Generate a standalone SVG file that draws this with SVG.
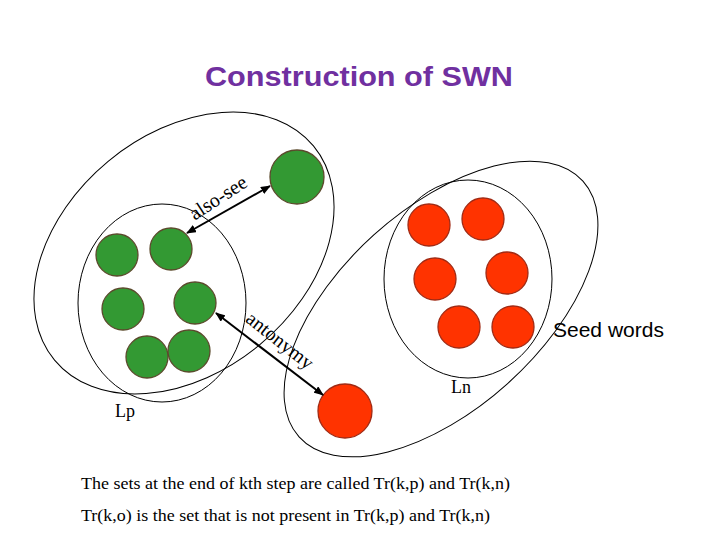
<svg xmlns="http://www.w3.org/2000/svg" width="720" height="540" viewBox="0 0 720 540">
<style>
.bg{fill:#ffffff}
.set{fill:none;stroke:#000;stroke-width:1}
.g{fill:#339933;stroke:#5b4a2c;stroke-width:1.3}
.r{fill:#ff3300;stroke:#a02a14;stroke-width:1.3}
.edge{stroke:#000;stroke-width:2;fill:none;marker-start:url(#ah);marker-end:url(#ah)}
.lbl{font-family:"Liberation Serif","Times New Roman",serif;font-size:18px;fill:#000}
.elbl{font-family:"Liberation Serif","Times New Roman",serif;font-size:20px;fill:#000}
.title{font-family:"Liberation Sans",Arial,sans-serif;font-weight:bold;font-size:28px;fill:#7030a0}
.sans{font-family:"Liberation Sans",Arial,sans-serif;font-size:21px;fill:#000}
.note{font-family:"Liberation Serif","Times New Roman",serif;font-size:17.5px;fill:#000}
</style>
<defs>
<marker id="ah" viewBox="0 0 10 8" refX="9" refY="4" markerWidth="10" markerHeight="8" markerUnits="userSpaceOnUse" orient="auto-start-reverse">
<path d="M0,0 L10,4 L0,8 z" fill="#000"/>
</marker>
</defs>
<rect class="bg" width="720" height="540"/>
<text class="title" x="359" y="86" text-anchor="middle" textLength="308" lengthAdjust="spacingAndGlyphs">Construction of SWN</text>

<g id="sets">
<ellipse id="green-outer" class="set" cx="184" cy="253" rx="168" ry="119" transform="rotate(-39.6 184 253)"/>
<ellipse id="Lp-set" class="set" cx="162" cy="303" rx="84" ry="99"/>
<ellipse id="red-outer" class="set" cx="441" cy="309" rx="191" ry="100" transform="rotate(-42 441 309)"/>
<ellipse id="Ln-set" class="set" cx="468" cy="279" rx="84" ry="99"/>
</g>

<g id="green-nodes">
<g id="gp1"><circle class="g" cx="117" cy="255" r="21"/></g>
<g id="gp2"><circle class="g" cx="171" cy="249" r="21"/></g>
<g id="gp3"><circle class="g" cx="123" cy="309" r="21"/></g>
<g id="gp4"><circle class="g" cx="195" cy="303" r="21"/></g>
<g id="gp5"><circle class="g" cx="147" cy="357" r="21"/></g>
<g id="gp6"><circle class="g" cx="189" cy="351" r="21"/></g>
<g id="gbig"><circle class="g" cx="297" cy="177" r="27"/></g>
</g>

<g id="red-nodes">
<g id="rn1"><circle class="r" cx="429" cy="225" r="21"/></g>
<g id="rn2"><circle class="r" cx="483" cy="219" r="21"/></g>
<g id="rn3"><circle class="r" cx="435" cy="279" r="21"/></g>
<g id="rn4"><circle class="r" cx="507" cy="273" r="21"/></g>
<g id="rn5"><circle class="r" cx="459" cy="327" r="21"/></g>
<g id="rn6"><circle class="r" cx="513" cy="327" r="21"/></g>
<g id="rbig"><circle class="r" cx="345" cy="411" r="27"/></g>
</g>

<g id="connectors">
<line class="edge" x1="187" y1="233" x2="270" y2="186"/>
<line class="edge" x1="216" y1="313" x2="323" y2="395"/>
<text class="elbl" text-anchor="middle" transform="translate(226 210) rotate(-33)" x="0" y="-8">also-see</text>
<text class="elbl" text-anchor="middle" transform="translate(271 352) rotate(38)" x="0" y="-8">antonymy</text>
</g>

<g id="labels">
<text class="lbl" x="115" y="417">Lp</text>
<text class="lbl" x="451" y="393">Ln</text>
<text class="sans" x="553" y="337">Seed words</text>
<text class="note" x="81" y="489" textLength="429" lengthAdjust="spacingAndGlyphs">The sets at the end of kth step are called Tr(k,p) and Tr(k,n)</text>
<text class="note" x="81" y="521" textLength="409" lengthAdjust="spacingAndGlyphs">Tr(k,o) is the set that is not present in Tr(k,p) and Tr(k,n)</text>
</g>
</svg>
